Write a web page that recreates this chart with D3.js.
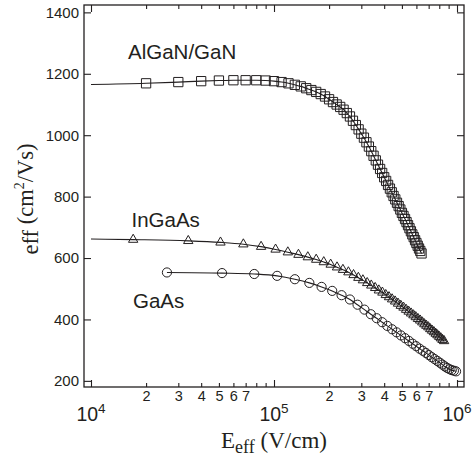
<!DOCTYPE html>
<html>
<head>
<meta charset="utf-8">
<script src="https://cdn.jsdelivr.net/npm/d3@7"></script>
<style>
  html, body { margin: 0; padding: 0; background: #fff; }
  svg { display: block; }
</style>
</head>
<body>
<svg id="chart" width="474" height="457"></svg>
<script>
// Effective field (V/cm) and effective mobility (cm^2/Vs) for each channel material
const fieldAlGaN = [20000, 30000, 40000, 50000, 60000, 70000, 80000, 90000, 100000,
  110000, 120000, 130000, 140000, 150000, 160000, 170000, 180000, 190000, 200000,
  210000, 220000, 230000, 240000, 250000, 260000, 270000, 280000, 290000, 300000,
  310000, 320000, 330000, 340000, 350000, 360000, 370000, 380000, 390000, 400000,
  410000, 420000, 430000, 440000, 450000, 460000, 470000, 480000, 490000, 500000,
  510000, 520000, 530000, 540000, 550000, 560000, 570000, 580000, 590000, 600000,
  610000, 620000, 630000, 640000];
const muAlGaN = [1169, 1173, 1176, 1178, 1179, 1179, 1179, 1178, 1176,
  1173, 1169, 1164, 1159, 1153, 1147, 1141, 1134, 1126, 1117,
  1108, 1100, 1092, 1083, 1072, 1061, 1047, 1033, 1019, 1005,
  992, 977, 963, 948, 933, 918, 904, 890, 877, 863,
  851, 838, 826, 814, 802, 791, 780, 769, 758, 747,
  737, 727, 717, 707, 697, 687, 677, 668, 658, 649,
  640, 631, 623, 615];

const fieldInGaAs = [17000, 34000, 51000, 68000, 85000, 102000, 119000, 136000, 153000, 170000,
  187000, 204000, 221000, 238000, 255000, 272000, 289000, 306000, 323000, 340000,
  357000, 374000, 391000, 408000, 425000, 442000, 459000, 476000, 493000, 510000,
  527000, 544000, 561000, 578000, 595000, 612000, 629000, 646000, 663000, 680000,
  697000, 714000, 731000, 748000, 765000, 782000, 799000, 816000, 833000, 850000];
const muInGaAs = [660, 656, 651, 645, 637, 628, 619, 611, 603, 595,
  587, 579, 570, 562, 554, 545, 536, 528, 519, 511,
  503, 495, 488, 480, 473, 466, 459, 452, 445, 439,
  432, 426, 420, 414, 408, 402, 397, 391, 385, 380,
  375, 369, 364, 359, 354, 349, 344, 339, 334, 330];

const fieldGaAs = [26000, 52000, 78000, 104000, 130000, 156000, 182000, 208000, 234000, 260000,
  286000, 312000, 338000, 364000, 390000, 416000, 442000, 468000, 494000, 520000,
  546000, 572000, 598000, 624000, 650000, 676000, 702000, 728000, 754000, 780000,
  806000, 832000, 858000, 884000, 910000, 936000, 962000, 988000];
const muGaAs = [553, 551, 548, 542, 531, 519, 506, 493, 479, 465,
  448, 432, 417, 404, 391, 379, 368, 358, 348, 339,
  330, 321, 313, 305, 298, 291, 284, 277, 271, 265,
  259, 253, 247, 242, 238, 235, 233, 231];

// The fitted curves of the two upper series start at 1e4 V/cm
const curveStartAlGaN = [10000, 1165];
const curveStartInGaAs = [10000, 662];

const seriesLabels = ["AlGaN/GaN", "InGaAs", "GaAs"];

// Axis ticks
const yTicks = [200, 400, 600, 800, 1000, 1200, 1400];
const xMajorTicks = [1e4, 1e5, 1e6];
const xMajorExponents = ["4", "5", "6"];
const xMinorTicks = [2e4, 3e4, 4e4, 5e4, 6e4, 7e4, 8e4, 9e4,
  2e5, 3e5, 4e5, 5e5, 6e5, 7e5, 8e5, 9e5];
const xMinorLabels = ["2", "3", "4", "5", "6", "7", "", "",
  "2", "3", "4", "5", "6", "7", "", ""];

const ink = "#231f20";
const sans = "'Liberation Sans', Arial, Helvetica, sans-serif";
const serif = "'Liberation Serif', 'Times New Roman', Times, serif";

const svg = d3.select("#chart");
const plotLeft = 84, plotRight = 464, plotTop = 5, plotBottom = 387;

const x = d3.scaleLog().domain([9157, 1092000]).range([plotLeft, plotRight]);
const y = d3.scaleLinear().domain([180, 1424]).range([plotBottom, plotTop]);

function styleAxis(g) {
  g.attr("color", ink).attr("font-family", sans);
  g.select(".domain").remove();
  g.selectAll(".tick line").attr("stroke-width", 1.1);
}

// Bottom axis: major and minor ticks point inward
svg.append("g").attr("transform", `translate(0,${plotBottom})`)
  .call(d3.axisBottom(x).tickValues(xMajorTicks).tickSize(-7).tickSizeOuter(0).tickFormat(""))
  .call(styleAxis);
svg.append("g").attr("transform", `translate(0,${plotBottom})`)
  .call(d3.axisBottom(x).tickValues(xMinorTicks).tickSize(-4).tickSizeOuter(0)
    .tickPadding(3.5).tickFormat((d, i) => xMinorLabels[i]))
  .call(styleAxis)
  .attr("font-size", 14.5);

// Decade labels as powers of ten
const decade = svg.append("g").attr("font-family", sans).attr("fill", ink);
xMajorTicks.forEach((d, i) => {
  const t = decade.append("text")
    .attr("x", x(d)).attr("y", 421)
    .attr("text-anchor", "middle")
    .attr("font-size", 19.5);
  t.append("tspan").text("10");
  t.append("tspan").attr("font-size", 13.5).attr("dy", -8).text(xMajorExponents[i]);
});

// Top axis (ticks only)
svg.append("g").attr("transform", `translate(0,${plotTop})`)
  .call(d3.axisTop(x).tickValues(xMajorTicks).tickSize(-7).tickSizeOuter(0).tickFormat(""))
  .call(styleAxis);
svg.append("g").attr("transform", `translate(0,${plotTop})`)
  .call(d3.axisTop(x).tickValues(xMinorTicks).tickSize(-4).tickSizeOuter(0).tickFormat(""))
  .call(styleAxis);

// Left axis with labels, right axis ticks only
svg.append("g").attr("transform", `translate(${plotLeft},0)`)
  .call(d3.axisLeft(y).tickValues(yTicks).tickSize(-7).tickSizeOuter(0).tickPadding(5)
    .tickFormat(d3.format("d")))
  .call(styleAxis)
  .attr("font-size", 15);
svg.append("g").attr("transform", `translate(${plotRight},0)`)
  .call(d3.axisRight(y).tickValues(yTicks).tickSize(-7).tickSizeOuter(0).tickFormat(""))
  .call(styleAxis);

// Plot frame
svg.append("rect")
  .attr("x", plotLeft).attr("y", plotTop)
  .attr("width", plotRight - plotLeft).attr("height", plotBottom - plotTop)
  .attr("fill", "none").attr("stroke", ink).attr("stroke-width", 1.3);

// Series
const toPoints = (fields, mus) => fields.map((e, i) => ({ e, mu: mus[i] }));
const ptsAlGaN = toPoints(fieldAlGaN, muAlGaN);
const ptsInGaAs = toPoints(fieldInGaAs, muInGaAs);
const ptsGaAs = toPoints(fieldGaAs, muGaAs);

const series = [
  { pts: ptsAlGaN, curve: [{ e: curveStartAlGaN[0], mu: curveStartAlGaN[1] }, ...ptsAlGaN],
    symbol: d3.symbolSquare, size: 86 },
  { pts: ptsInGaAs, curve: [{ e: curveStartInGaAs[0], mu: curveStartInGaAs[1] }, ...ptsInGaAs],
    symbol: d3.symbolTriangle, size: 38 },
  { pts: ptsGaAs, curve: ptsGaAs, symbol: d3.symbolCircle, size: 66 }
];

const line = d3.line().x(d => x(d.e)).y(d => y(d.mu)).curve(d3.curveMonotoneX);

const plot = svg.append("g");
series.forEach(s => {
  plot.append("path")
    .datum(s.curve)
    .attr("d", line)
    .attr("fill", "none")
    .attr("stroke", ink)
    .attr("stroke-width", 1.1);
  plot.append("g").selectAll("path")
    .data(s.pts)
    .join("path")
    .attr("transform", d => `translate(${x(d.e)},${y(d.mu)})`)
    .attr("d", d3.symbol().type(s.symbol).size(s.size))
    .attr("fill", "none")
    .attr("stroke", ink)
    .attr("stroke-width", 1);
});

// Series names
const names = svg.append("g").attr("font-family", sans).attr("font-size", 20.5).attr("fill", ink);
names.append("text").attr("x", 128).attr("y", 59).text(seriesLabels[0]);
names.append("text").attr("x", 131.5).attr("y", 226.5).text(seriesLabels[1]);
names.append("text").attr("x", 133).attr("y", 308).text(seriesLabels[2]);

// Axis titles
const xt = svg.append("text")
  .attr("x", x(1e5)).attr("y", 448)
  .attr("text-anchor", "middle")
  .attr("font-family", serif).attr("font-size", 23).attr("fill", ink);
xt.append("tspan").text("E");
xt.append("tspan").attr("font-size", 18).attr("dy", 5).text("eff");
xt.append("tspan").attr("dy", -5).text(" (V/cm)");

const yt = svg.append("text")
  .attr("transform", "translate(33,199) rotate(-90)")
  .attr("text-anchor", "middle")
  .attr("font-family", serif).attr("font-size", 22.5).attr("fill", ink);
yt.append("tspan").attr("dy", 5).text("eff");
yt.append("tspan").attr("dy", -5).text(" (cm");
yt.append("tspan").attr("font-size", 14).attr("dy", -9).text("2");
yt.append("tspan").attr("dy", 9).text("/Vs)");
</script>
</body>
</html>
